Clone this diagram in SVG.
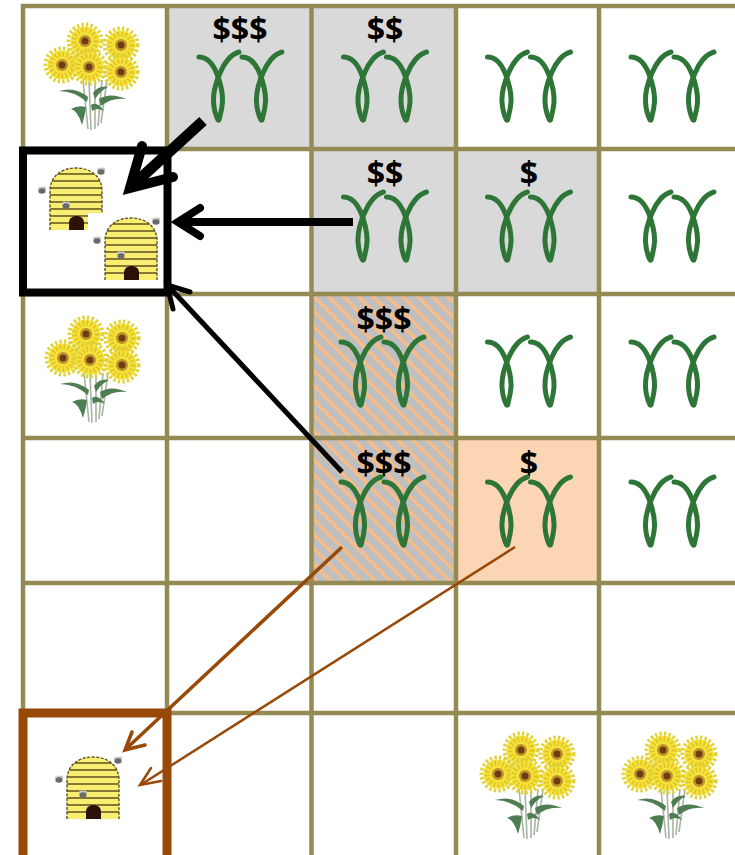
<svg xmlns="http://www.w3.org/2000/svg" xmlns:xlink="http://www.w3.org/1999/xlink" width="735" height="855" viewBox="0 0 735 855">
  <style>
    .grid line { stroke: #948A54; stroke-width: 4.5; }
    .cost { font-family: "Open Sans", "Liberation Sans", sans-serif; font-weight: 700; font-size: 32px; fill: #000; text-anchor: middle; }
    .strand { fill: none; stroke: #2E7637; stroke-width: 5; stroke-linecap: round; }
    .blk { stroke: #000; fill: none; }
    .brn { stroke: #984807; fill: none; }
  </style>
  <defs>
    <pattern id="stripes" patternUnits="userSpaceOnUse" width="10.5" height="10.5" patternTransform="rotate(-45)">
      <rect width="10.5" height="10.5" fill="#BFBFBF"/>
      <rect width="3.4" height="10.5" fill="#F8BC88"/>
    </pattern>

    <!-- one twisted seedling -->
    <g id="plant">
      <path class="strand" d="M0,5 C8,5 14,12 18,22 C21,30 24,40 23.5,50 C23,58 21,64 20,68"/>
      <path class="strand" d="M40,0 C32,2 25,11 21,21 C17,30 14,40 14.5,50 C15,58 17,64 19,68"/>
    </g>
    <g id="pair">
      <use xlink:href="#plant"/>
      <use xlink:href="#plant" x="43"/>
    </g>

    <!-- daisy head -->
    <g id="head">
      <circle r="16.5" fill="none" stroke="#E2D236" stroke-width="4" stroke-dasharray="2.4 2.2"/>
      <circle r="14.5" fill="#F3E23A"/>
      <circle r="11" fill="none" stroke="#E2C226" stroke-width="5" stroke-dasharray="1.6 2.4"/>
      <circle r="6" fill="#C0922A"/>
      <circle r="3.5" fill="#6E3C14"/>
    </g>

    <!-- bouquet of daisies, 91 x 105 -->
    <g id="bouquet">
      <g stroke="#A7B4A2" stroke-width="1.6" fill="none">
        <path d="M36,55 L41,104"/>
        <path d="M42,55 L44,105"/>
        <path d="M48,55 L48,104"/>
        <path d="M55,55 L51,101"/>
        <path d="M60,55 L54,98"/>
      </g>
      <g fill="#4E7D52">
        <path d="M41,72 Q28,61 12,66 Q27,66 40,77 Z"/>
        <path d="M39,82 Q31,80 24,84 Q31,86 35,100 Q38,90 39,82 Z"/>
        <path d="M52,74 Q63,67 79,74 Q65,72 54,81 Z"/>
        <path d="M46,68 Q52,60 61,62 Q54,65 48,74 Z"/>
        <path d="M44,80 Q50,76 57,86 Q50,82 45,86 Z"/>
      </g>
      <use xlink:href="#head" x="38" y="16"/>
      <use xlink:href="#head" x="74" y="20"/>
      <use xlink:href="#head" x="15" y="40"/>
      <use xlink:href="#head" x="42" y="42"/>
      <use xlink:href="#head" x="74" y="47"/>
    </g>

    <!-- small bee -->
    <g id="bee">
      <ellipse cx="-1.5" cy="-2.5" rx="2.6" ry="2" fill="#D0D0D0"/>
      <ellipse cx="1.8" cy="-2.8" rx="2.4" ry="1.8" fill="#C4C4C4"/>
      <ellipse rx="3.6" ry="2.8" fill="#6A6A6A"/>
    </g>

    <clipPath id="domeClip">
      <path d="M17,67 L17,28 C17,13 29,5 43,5 C57,5 69,13 69,28 L69,67 Z"/>
    </clipPath>

    <!-- straw beehive on a white card, 72 x 67 -->
    <g id="hive">
      <rect width="72" height="67" fill="#FFFFFF"/>
      <path d="M17,67 L17,28 C17,13 29,5 43,5 C57,5 69,13 69,28 L69,67 Z" fill="#F7EE72"/>
      <g clip-path="url(#domeClip)" stroke="#5E5220" stroke-width="1.4">
        <line x1="10" y1="11" x2="76" y2="11"/>
        <line x1="10" y1="18" x2="76" y2="18"/>
        <line x1="10" y1="25" x2="76" y2="25"/>
        <line x1="10" y1="32" x2="76" y2="32"/>
        <line x1="10" y1="39" x2="76" y2="39"/>
        <line x1="10" y1="46" x2="76" y2="46"/>
        <line x1="10" y1="53" x2="76" y2="53"/>
        <line x1="10" y1="60" x2="76" y2="60"/>
      </g>
      <path d="M17,67 L17,28 C17,13 29,5 43,5 C57,5 69,13 69,28 L69,67" fill="none" stroke="#5E5220" stroke-width="1.4" stroke-dasharray="3 1.5"/>
      <path d="M36,67 L36,60 C36,55 39.5,53 43.5,53 C47.5,53 51,55 51,60 L51,67 Z" fill="#2A1208"/>
      <use xlink:href="#bee" x="33" y="43"/>
      <use xlink:href="#bee" x="68" y="9"/>
      <use xlink:href="#bee" x="9" y="28"/>
    </g>
  </defs>

  <rect width="735" height="855" fill="#FFFFFF"/>

  <!-- shaded cells -->
  <g id="cells">
    <rect x="167" y="6" width="144" height="143" fill="#D9D9D9"/>
    <rect x="311" y="6" width="145" height="143" fill="#D9D9D9"/>
    <rect x="311" y="149" width="145" height="145" fill="#D9D9D9"/>
    <rect x="456" y="149" width="143" height="145" fill="#D9D9D9"/>
    <rect x="311" y="294" width="145" height="144" fill="url(#stripes)"/>
    <rect x="311" y="438" width="145" height="145" fill="url(#stripes)"/>
    <rect x="456" y="438" width="143" height="145" fill="#FCD5B4"/>
  </g>

  <!-- field grid -->
  <g class="grid" id="grid">
    <line x1="23" y1="4" x2="23" y2="855"/>
    <line x1="167" y1="4" x2="167" y2="855"/>
    <line x1="311.5" y1="4" x2="311.5" y2="855"/>
    <line x1="456" y1="4" x2="456" y2="855"/>
    <line x1="599" y1="4" x2="599" y2="855"/>
    <line x1="21" y1="6" x2="735" y2="6"/>
    <line x1="21" y1="149" x2="735" y2="149"/>
    <line x1="21" y1="294" x2="735" y2="294"/>
    <line x1="21" y1="438" x2="735" y2="438"/>
    <line x1="21" y1="583" x2="735" y2="583"/>
    <line x1="21" y1="713" x2="735" y2="713"/>
  </g>

  <!-- flowers -->
  <g id="flowers-r0c0"><use xlink:href="#bouquet" x="47" y="25"/></g>
  <g id="flowers-r2c0"><use xlink:href="#bouquet" x="48" y="318"/></g>
  <g id="flowers-r5c3"><use xlink:href="#bouquet" x="483" y="734"/></g>
  <g id="flowers-r5c4"><use xlink:href="#bouquet" x="625" y="734"/></g>

  <!-- crop cells -->
  <g id="crop-r0c1"><text class="cost" x="240" y="41">$$$</text><use xlink:href="#pair" x="199" y="52"/></g>
  <g id="crop-r0c2"><text class="cost" x="385" y="41">$$</text><use xlink:href="#pair" x="343.5" y="52"/></g>
  <g id="crop-r0c3"><use xlink:href="#pair" x="487.5" y="52"/></g>
  <g id="crop-r0c4"><use xlink:href="#pair" x="631" y="52"/></g>

  <g id="crop-r1c2"><text class="cost" x="385" y="185">$$</text><use xlink:href="#pair" x="343.5" y="192"/></g>
  <g id="crop-r1c3"><text class="cost" x="529" y="185">$</text><use xlink:href="#pair" x="487.5" y="192"/></g>
  <g id="crop-r1c4"><use xlink:href="#pair" x="631" y="192"/></g>

  <g id="crop-r2c2"><text class="cost" x="384" y="331">$$$</text><use xlink:href="#pair" x="341" y="337"/></g>
  <g id="crop-r2c3"><use xlink:href="#pair" x="487.5" y="337"/></g>
  <g id="crop-r2c4"><use xlink:href="#pair" x="631" y="337"/></g>

  <g id="crop-r3c2"><text class="cost" x="384" y="475">$$$</text><use xlink:href="#pair" x="341" y="477"/></g>
  <g id="crop-r3c3"><text class="cost" x="529" y="475">$</text><use xlink:href="#pair" x="487.5" y="477"/></g>
  <g id="crop-r3c4"><use xlink:href="#pair" x="631" y="477"/></g>

  <!-- apiaries -->
  <g id="apiary-main">
    <use xlink:href="#hive" x="33" y="163"/>
    <use xlink:href="#hive" x="88" y="213"/>
    <rect x="23" y="150.5" width="144.5" height="142" class="blk" stroke-width="8"/>
  </g>
  <g id="apiary-south">
    <use xlink:href="#hive" x="50" y="752"/>
    <rect x="23" y="713" width="144" height="160" class="brn" stroke-width="9"/>
  </g>

  <!-- foraging flows -->
  <g id="connectors" stroke-linecap="round" stroke-linejoin="miter">
    <line class="blk" x1="203" y1="121" x2="133" y2="185" stroke-width="11" stroke-linecap="butt"/>
    <path class="blk" d="M142,146 L130,188 L173,177" stroke-width="10"/>

    <line class="blk" x1="353" y1="222" x2="182" y2="222" stroke-width="8" stroke-linecap="butt"/>
    <path class="blk" d="M200,208 L178,222 L200,236" stroke-width="8"/>

    <line class="blk" x1="342" y1="472" x2="169" y2="287" stroke-width="5" stroke-linecap="butt"/>
    <path class="blk" d="M190,292 L167,285 L173,309" stroke-width="5"/>

    <line class="brn" x1="342" y1="547" x2="127" y2="748" stroke-width="3.5" stroke-linecap="butt"/>
    <path class="brn" d="M132,732 L125,750 L145,745" stroke-width="3.5"/>

    <line class="brn" x1="515" y1="547" x2="142" y2="784" stroke-width="2.5" stroke-linecap="butt"/>
    <path class="brn" d="M151,768 L140,785 L161,781" stroke-width="2.5"/>
  </g>
</svg>
